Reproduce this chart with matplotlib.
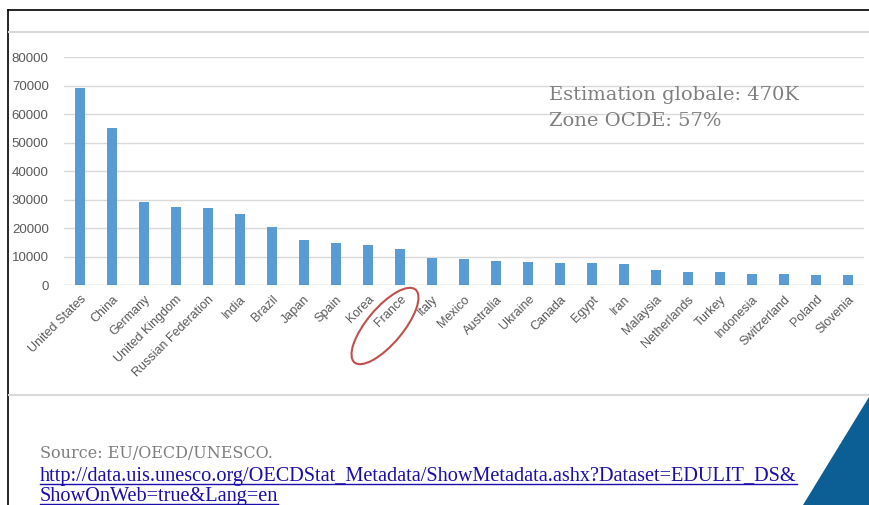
import numpy as np
import matplotlib
matplotlib.use("Agg")
import matplotlib.pyplot as plt
from matplotlib.patches import Ellipse, Polygon
from matplotlib.lines import Line2D

countries = ["United States", "China", "Germany", "United Kingdom", "Russian Federation",
             "India", "Brazil", "Japan", "Spain", "Korea", "France", "Italy", "Mexico",
             "Australia", "Ukraine", "Canada", "Egypt", "Iran", "Malaysia", "Netherlands",
             "Turkey", "Indonesia", "Switzerland", "Poland", "Slovenia"]
values = [69200, 55200, 29200, 27300, 27000, 24900, 20300, 15700, 14700, 13900, 12800,
          9600, 9100, 8600, 8000, 7700, 7700, 7400, 5200, 4500, 4500, 4000, 4000, 3600, 3600]
yticks = [0, 10000, 20000, 30000, 40000, 50000, 60000, 70000, 80000]
note_lines = ["Estimation globale: 470K", "Zone OCDE: 57%"]
source = "Source: EU/OECD/UNESCO."
url_lines = ["http://data.uis.unesco.org/OECDStat_Metadata/ShowMetadata.ashx?Dataset=EDULIT_DS&",
             "ShowOnWeb=true&Lang=en"]

W, H = 869, 505
fig = plt.figure(figsize=(W / 100, H / 100), dpi=100)
fig.patch.set_facecolor("white")

def px(x, y):
    return x / W, 1 - y / H

# slide frame
fig.add_artist(Line2D([8 / W, 1], [1 - 10 / H] * 2, color="black", lw=1.2))
fig.add_artist(Line2D([8 / W, 8 / W], [0, 1 - 10 / H], color="black", lw=1.2))
fig.add_artist(Line2D([9 / W, 1], [1 - 32 / H] * 2, color="#d9d9d9", lw=1.5))
fig.add_artist(Line2D([9 / W, 1], [1 - 395 / H] * 2, color="#d9d9d9", lw=1.5))

# blue corner triangle
fig.add_artist(Polygon([px(869, 397), px(803, 505), px(869, 505)], closed=True,
                       facecolor="#0b5f95", edgecolor="none"))

ax = fig.add_axes([64 / W, 1 - 285 / H, 800 / W, 227.5 / H])
x = np.arange(len(countries))
ax.bar(x, values, width=0.31, color="#5b9bd5", zorder=3)
ax.set_xlim(-0.5, len(countries) - 0.5)
ax.set_ylim(0, 80000)
ax.set_yticks(yticks)
ax.set_yticklabels([str(v) for v in yticks], fontsize=9.5, color="#595959", family="Liberation Sans")
ax.yaxis.grid(True, color="#d9d9d9", lw=1)
ax.set_axisbelow(True)
ax.set_xticks(x)
ax.set_xticklabels(countries, rotation=45, ha="right", rotation_mode="anchor",
                   fontsize=9, color="#595959", family="Liberation Sans")
ax.tick_params(axis="both", length=0)
ax.tick_params(axis="y", pad=11)
ax.tick_params(axis="x", pad=6)
for s in ax.spines.values():
    s.set_visible(False)
ax.axhline(0, color="#d9d9d9", lw=1, zorder=2)

# annotation text
fig.text(549 / W, 1 - 95 / H, note_lines[0], fontsize=14, color="#7f7f7f",
         family="DejaVu Serif", va="center")
fig.text(549 / W, 1 - 121 / H, note_lines[1], fontsize=14, color="#7f7f7f",
         family="DejaVu Serif", va="center")

# red ellipse around France
fr = countries.index("France")
cx, cy = ax.transData.transform((fr, 0))
ell = Ellipse((cx - 15, cy - 41), 95, 36, angle=50, transform=None,
              fill=False, edgecolor="#c0504d", lw=1.5)
fig.add_artist(ell)

# source and link
fig.text(40 / W, 1 - 453 / H, source, fontsize=11.5, color="#7f7f7f",
         family="DejaVu Serif", va="center")
t1 = fig.text(40 / W, 1 - 477 / H, url_lines[0], fontsize=14.6, color="#1a0dab",
              family="Liberation Serif", va="center")
t2 = fig.text(40 / W, 1 - 497 / H, url_lines[1], fontsize=14.6, color="#1a0dab",
              family="Liberation Serif", va="center")

fig.canvas.draw()
r = fig.canvas.get_renderer()
for t in (t1, t2):
    bb = t.get_window_extent(r)
    y0 = bb.y0 + 3
    fig.add_artist(Line2D([bb.x0 / W, bb.x1 / W], [y0 / H, y0 / H], color="#1a0dab", lw=1))

fig.savefig("out.png", dpi=100)
